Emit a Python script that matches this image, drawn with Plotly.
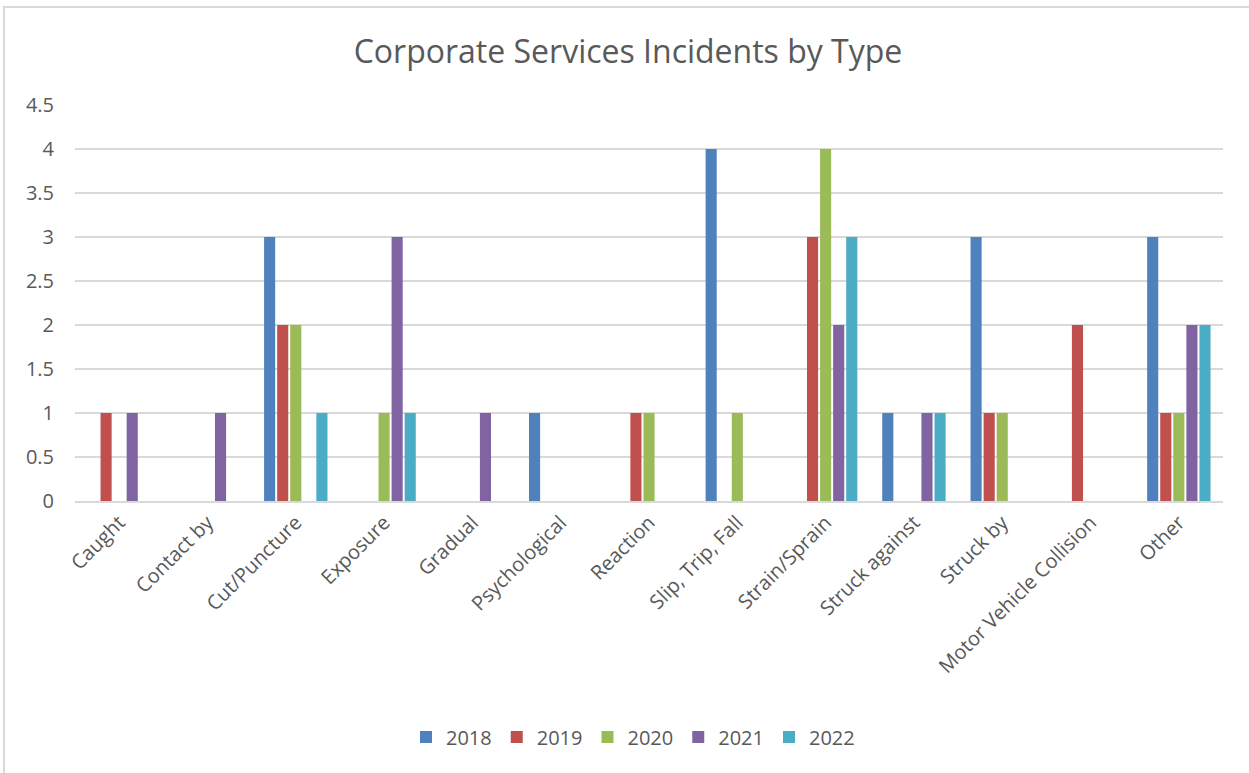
import plotly.graph_objects as go

categories = ["Caught", "Contact by", "Cut/Puncture", "Exposure", "Gradual",
              "Psychological", "Reaction", "Slip, Trip, Fall", "Strain/Sprain",
              "Struck against", "Struck by", "Motor Vehicle Collision", "Other"]

y2018 = [0, 0, 3, 0, 0, 1, 0, 4, 0, 1, 3, 0, 3]
y2019 = [1, 0, 2, 0, 0, 0, 1, 0, 3, 0, 1, 2, 1]
y2020 = [0, 0, 2, 1, 0, 0, 1, 1, 4, 0, 1, 0, 1]
y2021 = [1, 1, 0, 3, 1, 0, 0, 0, 2, 1, 0, 0, 2]
y2022 = [0, 0, 1, 1, 0, 0, 0, 0, 3, 1, 0, 0, 2]

series = [
    ("2018", y2018, "#4F81BD"),
    ("2019", y2019, "#C0504D"),
    ("2020", y2020, "#9BBB59"),
    ("2021", y2021, "#8064A2"),
    ("2022", y2022, "#4BACC6"),
]

fig = go.Figure()
for name, vals, color in series:
    fig.add_trace(go.Bar(x=categories, y=vals, name=name, marker_color=color,
                         marker_line_width=0))

text_color = "#595959"
grid_color = "#D9D9D9"
font_family = "Open Sans, Liberation Sans, sans-serif"

W, H = 1249, 773
ml, mr, mt, mb = 75, 26, 105, 272
pw, ph = W - ml - mr, H - mt - mb

def px_x(p):
    return (p - ml) / pw

def px_y(p):
    return (H - mb - p) / ph

fig.update_layout(
    width=W, height=H,
    margin=dict(l=ml, r=mr, t=mt, b=mb),
    paper_bgcolor="white", plot_bgcolor="white",
    barmode="group", bargap=0.26, bargroupgap=0.15,
    title=dict(text="Corporate Services Incidents by Type",
               x=628 / W, xref="container", xanchor="center",
               y=1 - 52 / H, yanchor="middle",
               font=dict(family=font_family, size=32, color=text_color)),
    font=dict(family=font_family, color=text_color),
    xaxis=dict(tickangle=-45, tickfont=dict(size=20, color=text_color),
               showgrid=False, showline=True, linecolor=grid_color, linewidth=2,
               ticks=""),
    yaxis=dict(range=[0, 4.5], dtick=0.5, tickformat="~g",
               tickfont=dict(size=20, color=text_color),
               showgrid=True, gridcolor=grid_color, gridwidth=2,
               zeroline=False, showline=False, ticks="", ticklabelstandoff=20),
    legend=dict(orientation="h", x=px_x(633), xanchor="center",
                y=px_y(737), yanchor="middle",
                font=dict(size=20, color=text_color),
                itemwidth=30, traceorder="normal"),
    shapes=[dict(type="rect", xref="paper", yref="paper",
                 x0=px_x(4), x1=px_x(W + 20), y0=px_y(H + 20), y1=px_y(7),
                 line=dict(color=grid_color, width=2), fillcolor="rgba(0,0,0,0)",
                 layer="below")],
)

fig.write_html("out.html")
